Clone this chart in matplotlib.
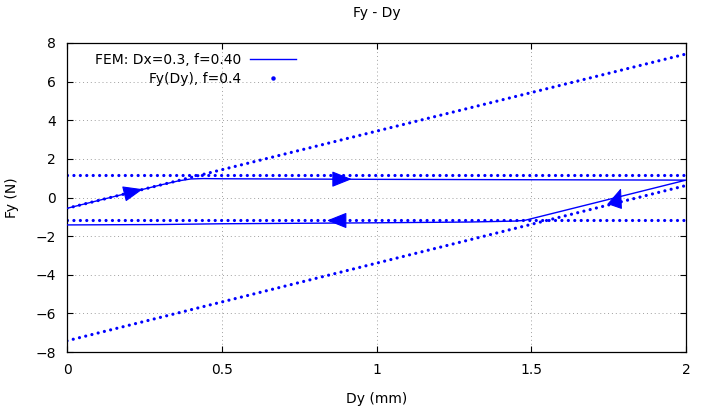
import numpy as np
import matplotlib
matplotlib.use("Agg")
import matplotlib.pyplot as plt
from matplotlib.lines import Line2D

# FEM loop (Dy in mm, Fy in N)
fem_dy = [0.0, 0.1, 0.2, 0.3, 0.36, 0.40, 0.44, 0.5, 1.0, 1.5, 2.0,
          1.75, 1.48, 1.45, 1.3, 1.0, 0.5, 0.3, 0.0]
fem_fy = [-0.56, -0.16, 0.24, 0.64, 0.86, 0.96, 0.98, 0.97, 0.94, 0.92, 0.90,
          -0.10, -1.18, -1.22, -1.27, -1.31, -1.36, -1.40, -1.42]

# Fy(Dy) branches, f=0.4 (end values at Dy=0 and Dy=2)
fdy_x = [0.0, 2.0]
fdy_up_slope = [-0.56, 7.43]
fdy_low_slope = [-7.42, 0.62]
fdy_stick_up = [1.18, 1.18]
fdy_stick_low = [-1.18, -1.18]

# arrow heads on the loop: (tail, tip)
arrows = [((0.19, 0.21), (0.245, 0.43)),
          ((0.86, 0.95), (0.92, 0.95)),
          ((0.90, -1.19), (0.84, -1.19)),
          ((1.772, -0.35), (1.79, 0.48))]

blue = '#0000ff'
plt.rcParams['font.family'] = 'DejaVu Sans'
plt.rcParams['font.size'] = 10

fig = plt.figure(figsize=(7.04, 4.13), dpi=100)
ax = fig.add_axes([67/704, 1-352/413, 619/704, 309/413])

ax.plot(fem_dy, fem_fy, color=blue, lw=1.0, zorder=3)

for ys in (fdy_up_slope, fdy_low_slope, fdy_stick_up, fdy_stick_low):
    ax.plot(fdy_x, ys, color=blue, lw=2.3, linestyle=(0, (0.01, 2.0)),
            dash_capstyle='round', zorder=2)

for tail, tip in arrows:
    ax.annotate('', xy=tip, xytext=tail,
                arrowprops=dict(arrowstyle='-|>,head_length=1.25,head_width=0.5',
                                mutation_scale=10, color=blue, lw=0.8,
                                shrinkA=0, shrinkB=0), zorder=4)

ax.set_xlim(0, 2)
ax.set_ylim(-8, 8)
ax.set_xticks([0, 0.5, 1, 1.5, 2])
ax.set_xticklabels(['0', '0.5', '1', '1.5', '2'])
ax.set_yticks(np.arange(-8, 9, 2))
ax.tick_params(direction='in', length=4.5, width=0.8, top=True, right=True, pad=8)
ax.grid(True, color='#a0a0a0', linestyle=(0, (1, 3)), lw=0.7)
for s in ax.spines.values():
    s.set_linewidth(0.9)

ax.set_xlabel('Dy (mm)', labelpad=11)
ax.set_ylabel('Fy (N)', labelpad=12)
ax.set_title('Fy - Dy', fontsize=10, pad=19)

h1 = Line2D([], [], color=blue, lw=1.0)
h2 = Line2D([], [], color=blue, lw=0, marker='o', markersize=2.2)
ax.legend([h1, h2], ['FEM: Dx=0.3, f=0.40', 'Fy(Dy), f=0.4'],
          loc='upper left', bbox_to_anchor=(0.03, 1.0), frameon=False,
          markerfirst=False, handlelength=3.3, handletextpad=0.6,
          labelspacing=0.4, borderaxespad=0.3)

fig.savefig('out.png', dpi=100)
